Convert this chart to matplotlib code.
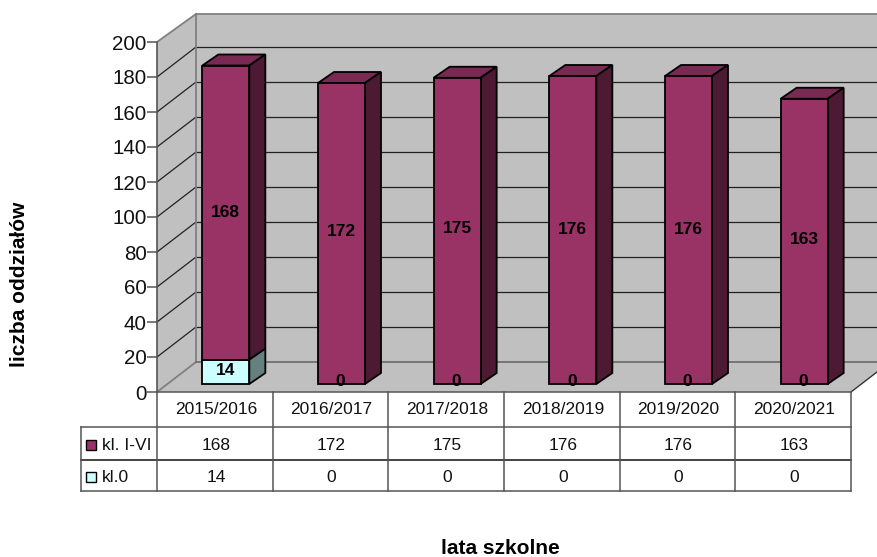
import matplotlib
matplotlib.use("Agg")
import matplotlib.pyplot as plt
from matplotlib.patches import Polygon, Rectangle

plt.rcParams['font.family'] = ['Liberation Sans', 'DejaVu Sans']

years = ["2015/2016", "2016/2017", "2017/2018", "2018/2019", "2019/2020", "2020/2021"]
kl_0 = [14, 0, 0, 0, 0, 0]
kl_1_6 = [168, 172, 175, 176, 176, 163]
y_ticks = list(range(0, 201, 20))

W, H = 877, 557
fig = plt.figure(figsize=(W / 100, H / 100), dpi=100)

# axes = front plane of the 3d box, in pixels of the picture
left, right, top, bottom = 157, 851, 42, 392
ax = fig.add_axes([left / W, 1 - bottom / H, (right - left) / W, (bottom - top) / H])
ax.set_xlim(0, 6)
ax.set_ylim(0, 200)
ax.patch.set_visible(False)
for s in ["top", "right", "bottom"]:
    ax.spines[s].set_visible(False)
ax.spines["left"].set_color("#555555")
ax.spines["left"].set_linewidth(1.2)
ax.spines["left"].set_zorder(4)
ax.set_xticks([])
ax.set_yticks(y_ticks)
ax.tick_params(axis="y", length=7, width=1.1, color="#555555", labelsize=14.8, pad=0.5, labelcolor="#111111")

px_x = 6 / (right - left)   # data units per pixel
px_y = 200 / (bottom - top)
dep_x, dep_y = 39 * px_x, 30 * px_y   # depth of the whole box
wall_top = 200 + 28 * px_y
b_x, b_y = 16 * px_x, 11 * px_y       # depth of a bar
off_x, off_y = 11 * px_x, 8 * px_y    # bar offset from the front
bar_w = 47 * px_x


def poly(pts, fc, ec="none", lw=1.0, z=1):
    ax.add_patch(Polygon(pts, closed=True, facecolor=fc, edgecolor=ec, linewidth=lw,
                         zorder=z, clip_on=False, joinstyle="miter"))


# walls and floor
wall = "#C0C0C0"
poly([(0, 0), (dep_x, dep_y), (dep_x, wall_top), (0, 200)], wall)
poly([(dep_x, dep_y), (6 + dep_x, dep_y), (6 + dep_x, wall_top), (dep_x, wall_top)], wall)
poly([(0, 0), (6, 0), (6 + dep_x, dep_y), (dep_x, dep_y)], wall)

for v in y_ticks[1:-1]:
    ax.plot([0, dep_x], [v, v + dep_y], color="#222222", lw=0.9, clip_on=False, zorder=2)
    ax.plot([dep_x, 6 + dep_x], [v + dep_y, v + dep_y], color="#222222", lw=0.9, clip_on=False, zorder=2)
ax.plot([0, dep_x], [200, wall_top], color="#808080", lw=1.3, clip_on=False, zorder=2)
ax.plot([dep_x, 6 + dep_x], [wall_top, wall_top], color="#808080", lw=1.3, clip_on=False, zorder=2)
ax.plot([dep_x, dep_x], [dep_y, wall_top], color="#808080", lw=1.3, clip_on=False, zorder=2)
ax.plot([0, dep_x], [0, dep_y], color="#808080", lw=1.3, clip_on=False, zorder=2)
ax.plot([dep_x, 6 + dep_x], [dep_y, dep_y], color="#707070", lw=1.3, clip_on=False, zorder=2)
ax.plot([6, 6 + dep_x], [0, dep_y], color="#333333", lw=1.0, clip_on=False, zorder=2)


def box(x0, y0, y1, front, side, roof, z):
    x1 = x0 + bar_w
    if roof is not None:
        poly([(x0, y1), (x1, y1), (x1 + b_x, y1 + b_y), (x0 + b_x, y1 + b_y)], roof, "black", 1.3, z)
    poly([(x1, y0), (x1 + b_x, y0 + b_y), (x1 + b_x, y1 + b_y), (x1, y1)], side, "black", 1.3, z)
    poly([(x0, y0), (x1, y0), (x1, y1), (x0, y1)], front, "black", 1.3, z)


# bars, with the small offsets of the value labels kept in pixels
lab_shift = [0, 2, 2, 1, 1, 2]
for i in range(len(years)):
    x0 = i + 0.5 - bar_w / 2 + off_x
    base = off_y
    z = 3 + i
    if kl_0[i] > 0:
        box(x0, base, base + kl_0[i], "#CCFFFF", "#668080", "#99BFBF", z)
    box(x0, base + kl_0[i], base + kl_0[i] + kl_1_6[i], "#993366", "#4D1A33", "#7A2952", z)
    xc = x0 + bar_w / 2
    ax.text(xc, base + kl_0[i] + kl_1_6[i] / 2 + lab_shift[i] * px_y, str(kl_1_6[i]),
            ha="center", va="center", fontsize=12.5, fontweight="bold", color="black", zorder=20)
    ax.text(xc - (0 if kl_0[i] else 1) * px_x, base + kl_0[i] / 2 + (1.5 if kl_0[i] else 2.5) * px_y, str(kl_0[i]),
            ha="center", va="center", fontsize=12.5, fontweight="bold", color="black", zorder=20)

# data table under the chart
row_y = [(bottom - p) * px_y for p in (392, 427, 460, 491)]
tbl_left = (81 - left) * px_x
line = dict(color="#555555", lw=1.1, clip_on=False, zorder=5)
ax.plot([0, 6], [row_y[0], row_y[0]], **line)
ax.plot([tbl_left, 6], [row_y[1], row_y[1]], **line)
ax.plot([tbl_left, 6], [row_y[2], row_y[2]], color="#111111", lw=1.1, clip_on=False, zorder=5)
ax.plot([tbl_left, 6], [row_y[3], row_y[3]], **line)
for k in range(7):
    ax.plot([k, k], [row_y[0], row_y[3]], **line)
ax.plot([tbl_left, tbl_left], [row_y[1], row_y[3]], **line)

row_mid = [(row_y[0] + row_y[1]) / 2, (row_y[1] + row_y[2]) / 2 - 1.5 * px_y, (row_y[2] + row_y[3]) / 2 - 1.5 * px_y]
for i in range(len(years)):
    xt = i + 0.5 + 1 * px_x
    ax.text(xt, row_mid[0], years[i], ha="center", va="center", fontsize=12.5, color="#111111", clip_on=False)
    ax.text(xt, row_mid[1], str(kl_1_6[i]), ha="center", va="center", fontsize=12.5, color="#111111", clip_on=False)
    ax.text(xt, row_mid[2], str(kl_0[i]), ha="center", va="center", fontsize=12.5, color="#111111", clip_on=False)

key_w = 10 * px_x
key_h = 10 * px_y
for r, name, col in [(1, "kl. I-VI", "#993366"), (2, "kl.0", "#CCFFFF")]:
    mid = row_mid[r]
    ax.add_patch(Rectangle(((86 - left) * px_x, mid - key_h / 2), key_w, key_h, facecolor=col,
                           edgecolor="black", lw=1.0, clip_on=False, zorder=6))
    ax.text((102 - left) * px_x, mid, name, ha="left", va="center", fontsize=12.5, color="#111111", clip_on=False)

fig.text(20 / W, 1 - 284 / H, "liczba oddziałów", rotation=90, ha="center", va="center",
         fontsize=15, fontweight="bold", color="black")
fig.text(500 / W, 1 - 549 / H, "lata szkolne", ha="center", va="center",
         fontsize=15, fontweight="bold", color="black")

fig.savefig("out.png", dpi=100)
